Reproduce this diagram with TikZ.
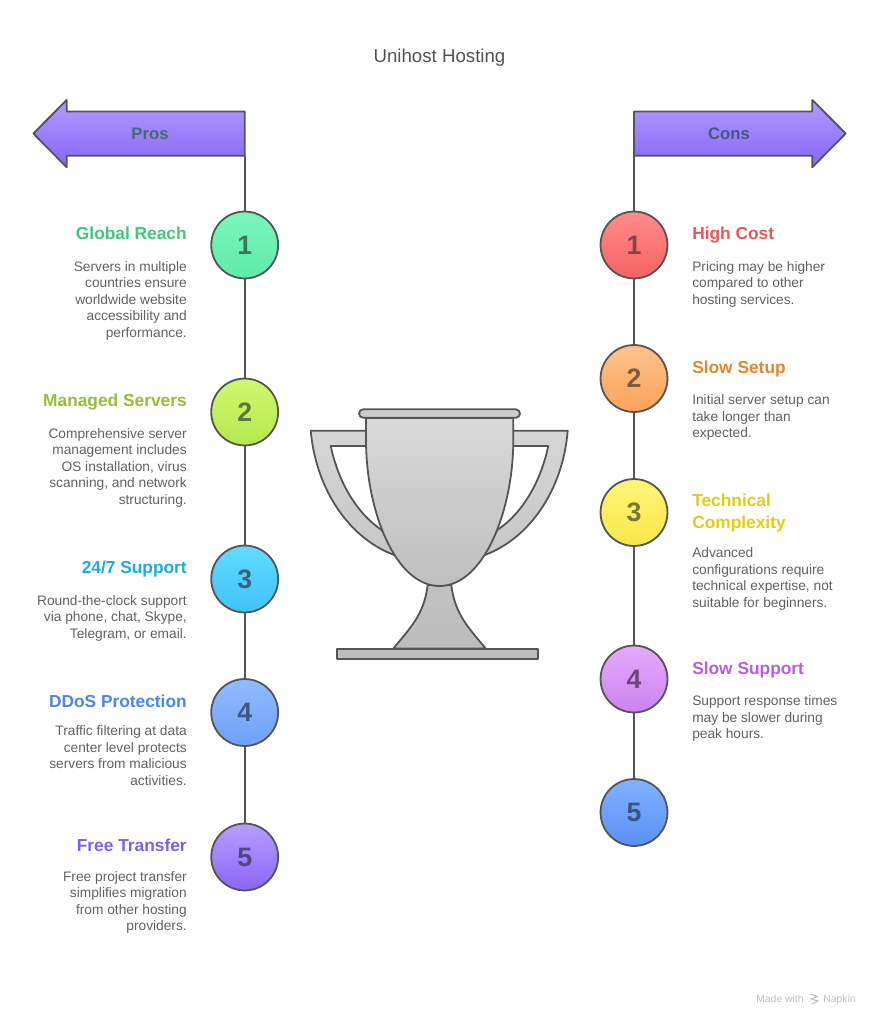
\documentclass[tikz,border=0pt]{standalone}
\usepackage{fontspec}
\setmainfont{Liberation Sans}
\definecolor{ln}{HTML}{555555}
\definecolor{banT}{HTML}{B09AFF}\definecolor{banB}{HTML}{8666F8}
\definecolor{pa}{HTML}{7AF6BC}\definecolor{pb}{HTML}{5EEBAA}\definecolor{pc}{HTML}{40745C}
\definecolor{qa}{HTML}{D0F870}\definecolor{qb}{HTML}{B4E84E}\definecolor{qc}{HTML}{60763A}
\definecolor{ra}{HTML}{62DAFF}\definecolor{rb}{HTML}{3EC4FA}\definecolor{rc}{HTML}{36647E}
\definecolor{sa}{HTML}{92BCFF}\definecolor{sb}{HTML}{6EA0F8}\definecolor{sc}{HTML}{425880}
\definecolor{ta}{HTML}{B69EFF}\definecolor{tb}{HTML}{8A66F6}\definecolor{tc}{HTML}{504682}
\definecolor{ua}{HTML}{FF8C8C}\definecolor{ub}{HTML}{F66262}\definecolor{uc}{HTML}{804646}
\definecolor{va}{HTML}{FFC28C}\definecolor{vb}{HTML}{FAA25A}\definecolor{vc}{HTML}{7E5C3C}
\definecolor{wa}{HTML}{FFF578}\definecolor{wb}{HTML}{F8E648}\definecolor{wc}{HTML}{7A7436}
\definecolor{ya}{HTML}{E4AAFA}\definecolor{yb}{HTML}{CE82F0}\definecolor{yc}{HTML}{6A487C}
\definecolor{za}{HTML}{80B2FF}\definecolor{zb}{HTML}{5A90F8}\definecolor{zc}{HTML}{3C5280}
\definecolor{prosT}{HTML}{4A6B64}\definecolor{consT}{HTML}{435882}
\definecolor{t1}{HTML}{3EC882}\definecolor{t2}{HTML}{96BE36}\definecolor{t3}{HTML}{1EAAE4}
\definecolor{t4}{HTML}{4C86EC}\definecolor{t5}{HTML}{7B61F0}\definecolor{t6}{HTML}{EE5555}
\definecolor{t7}{HTML}{E8842C}\definecolor{t8}{HTML}{E6CC10}\definecolor{t9}{HTML}{B85CE8}
\tikzset{
  x=0.75pt,y=-0.75pt,
  outl/.style={draw=ln,line width=1.35pt,line join=round},
  spine/.style={draw=ln,line width=1.2pt},
  num/.style n args={3}{circle,minimum size=50.2pt,inner sep=0pt,outl,top color=#1,bottom color=#2,text=#3,font=\fontsize{20}{20}\selectfont\bfseries},
  ttl/.style={inner sep=0pt,font=\fontsize{13}{16.5}\selectfont\bfseries},
  ltitle/.style={ttl,anchor=base east,align=right},
  rtitle/.style={ttl,anchor=base west,align=left},
  ldesc/.style={inner sep=0pt,anchor=north east,align=right,text=black!62,font=\fontsize{10.3}{12.4}\selectfont},
  rdesc/.style={inner sep=0pt,anchor=north west,align=left,text=black!62,font=\fontsize{10.3}{12.4}\selectfont},
  banner/.style={outl,top color=banT,bottom color=banB},
  bantext/.style={inner sep=0pt,font=\fontsize{12.5}{15}\selectfont\bfseries},
  foot/.style={inner sep=0pt,anchor=base west,text=black!25,font=\fontsize{7.8}{9}\selectfont}
}
\begin{document}
\begin{tikzpicture}
\useasboundingbox (0,0) rectangle (879,1024);
\node[inner sep=0pt,text=black!68,font=\fontsize{14}{16}\selectfont] (title) at (439.5,57.5) {Unihost Hosting};

% banners
\path[banner]
  (244.7,111.5) -- (66.7,111.5) -- (66.7,100) -- (33.3,133.5) -- (66.7,167.3) -- (66.7,155.7) -- (244.7,155.7) -- cycle;
\path[banner]
  (634,111.5) -- (812.3,111.5) -- (812.3,100) -- (845.7,133.5) -- (812.3,167.3) -- (812.3,155.7) -- (634,155.7) -- cycle;
\node[bantext,text=prosT] (pros) at (150,133.5) {Pros};
\node[bantext,text=consT] (cons) at (729,133.5) {Cons};
\coordinate (proroot) at (244.7,155.7);
\coordinate (conroot) at (634,155.7);

% trophy
\path[outl,top color=black!16,bottom color=black!22]
  (310.7,430.7) -- (370,430.7) -- (370,446) -- (330.7,446)
  .. controls (338,480) and (355,512) .. (381.7,530) -- (397,556)
  .. controls (350,540) and (316,490) .. (310.7,430.7) -- cycle;
\path[outl,top color=black!16,bottom color=black!22]
  (567.7,430.7) -- (509,430.7) -- (509,446) -- (548.3,446)
  .. controls (541,480) and (524,512) .. (497.3,530) -- (482,556)
  .. controls (529,540) and (563,490) .. (567.7,430.7) -- cycle;
\path[outl,top color=black!24,bottom color=black!26]
  (427.7,585) .. controls (424,615) and (410,628) .. (393.3,648.6) -- (485.7,648.6)
  .. controls (469,628) and (455,615) .. (451.3,585) -- cycle;
\path[outl,top color=black!15,bottom color=black!25]
  (366,418) -- (366,440) .. controls (366,510) and (395,586) .. (439.5,586)
  .. controls (484,586) and (513.3,510) .. (513.3,440) -- (513.3,418) -- cycle;
\path[outl,fill=black!20,rounded corners=3.2pt] (359,409.3) rectangle (520,417.8);
\path[outl,fill=black!26] (337.3,648.8) rectangle (538.3,659);

% left circles
\node[num={pa}{pb}{pc}] (p1) at (244.7,245) {1};
\node[num={qa}{qb}{qc}] (p2) at (244.7,412) {2};
\node[num={ra}{rb}{rc}] (p3) at (244.7,579) {3};
\node[num={sa}{sb}{sc}] (p4) at (244.7,712.5) {4};
\node[num={ta}{tb}{tc}] (p5) at (244.7,857) {5};
% right circles
\node[num={ua}{ub}{uc}] (c1) at (634,245) {1};
\node[num={va}{vb}{vc}] (c2) at (634,378.5) {2};
\node[num={wa}{wb}{wc}] (c3) at (634,512.5) {3};
\node[num={ya}{yb}{yc}] (c4) at (634,679) {4};
\node[num={za}{zb}{zc}] (c5) at (634,812.5) {5};

% connectors
\draw[spine] (proroot) -- (p1);
\draw[spine] (p1) -- (p2);
\draw[spine] (p2) -- (p3);
\draw[spine] (p3) -- (p4);
\draw[spine] (p4) -- (p5);
\draw[spine] (conroot) -- (c1);
\draw[spine] (c1) -- (c2);
\draw[spine] (c2) -- (c3);
\draw[spine] (c3) -- (c4);
\draw[spine] (c4) -- (c5);

% left texts
\node[ltitle,text=t1] (pt1) at (187,239.5) {Global Reach};
\node[ldesc] (pd1) at (187,261) {Servers in multiple\\countries ensure\\worldwide website\\accessibility and\\performance.};
\node[ltitle,text=t2] (pt2) at (187,406.5) {Managed Servers};
\node[ldesc] (pd2) at (187,428) {Comprehensive server\\management includes\\OS installation, virus\\scanning, and network\\structuring.};
\node[ltitle,text=t3] (pt3) at (187,573.5) {24/7 Support};
\node[ldesc] (pd3) at (187,595) {Round-the-clock support\\via phone, chat, Skype,\\Telegram, or email.};
\node[ltitle,text=t4] (pt4) at (187,707) {DDoS Protection};
\node[ldesc] (pd4) at (187,725.5) {Traffic filtering at data\\center level protects\\servers from malicious\\activities.};
\node[ltitle,text=t5] (pt5) at (187,851.5) {Free Transfer};
\node[ldesc] (pd5) at (187,871) {Free project transfer\\simplifies migration\\from other hosting\\providers.};
% right texts
\node[rtitle,text=t6] (ct1) at (692,239.5) {High Cost};
\node[rdesc] (cd1) at (692,261) {Pricing may be higher\\compared to other\\hosting services.};
\node[rtitle,text=t7] (ct2) at (692,373) {Slow Setup};
\node[rdesc] (cd2) at (692,394.5) {Initial server setup can\\take longer than\\expected.};
\node[rtitle,text=t8] (ct3) at (692,528.5) {Technical\\Complexity};
\node[rdesc] (cd3) at (692,547.5) {Advanced\\configurations require\\technical expertise, not\\suitable for beginners.};
\node[rtitle,text=t9] (ct4) at (692,674) {Slow Support};
\node[rdesc] (cd4) at (692,695.5) {Support response times\\may be slower during\\peak hours.};

% footer
\node[foot] (made) at (756,1002) {Made with};
\node[foot] (nap) at (823,1002) {Napkin};
\draw[black!25,line width=0.8pt] (810.5,994) -- (817,996.5) -- (811,999) -- (818,1001) -- (812,1004);
\end{tikzpicture}
\end{document}
